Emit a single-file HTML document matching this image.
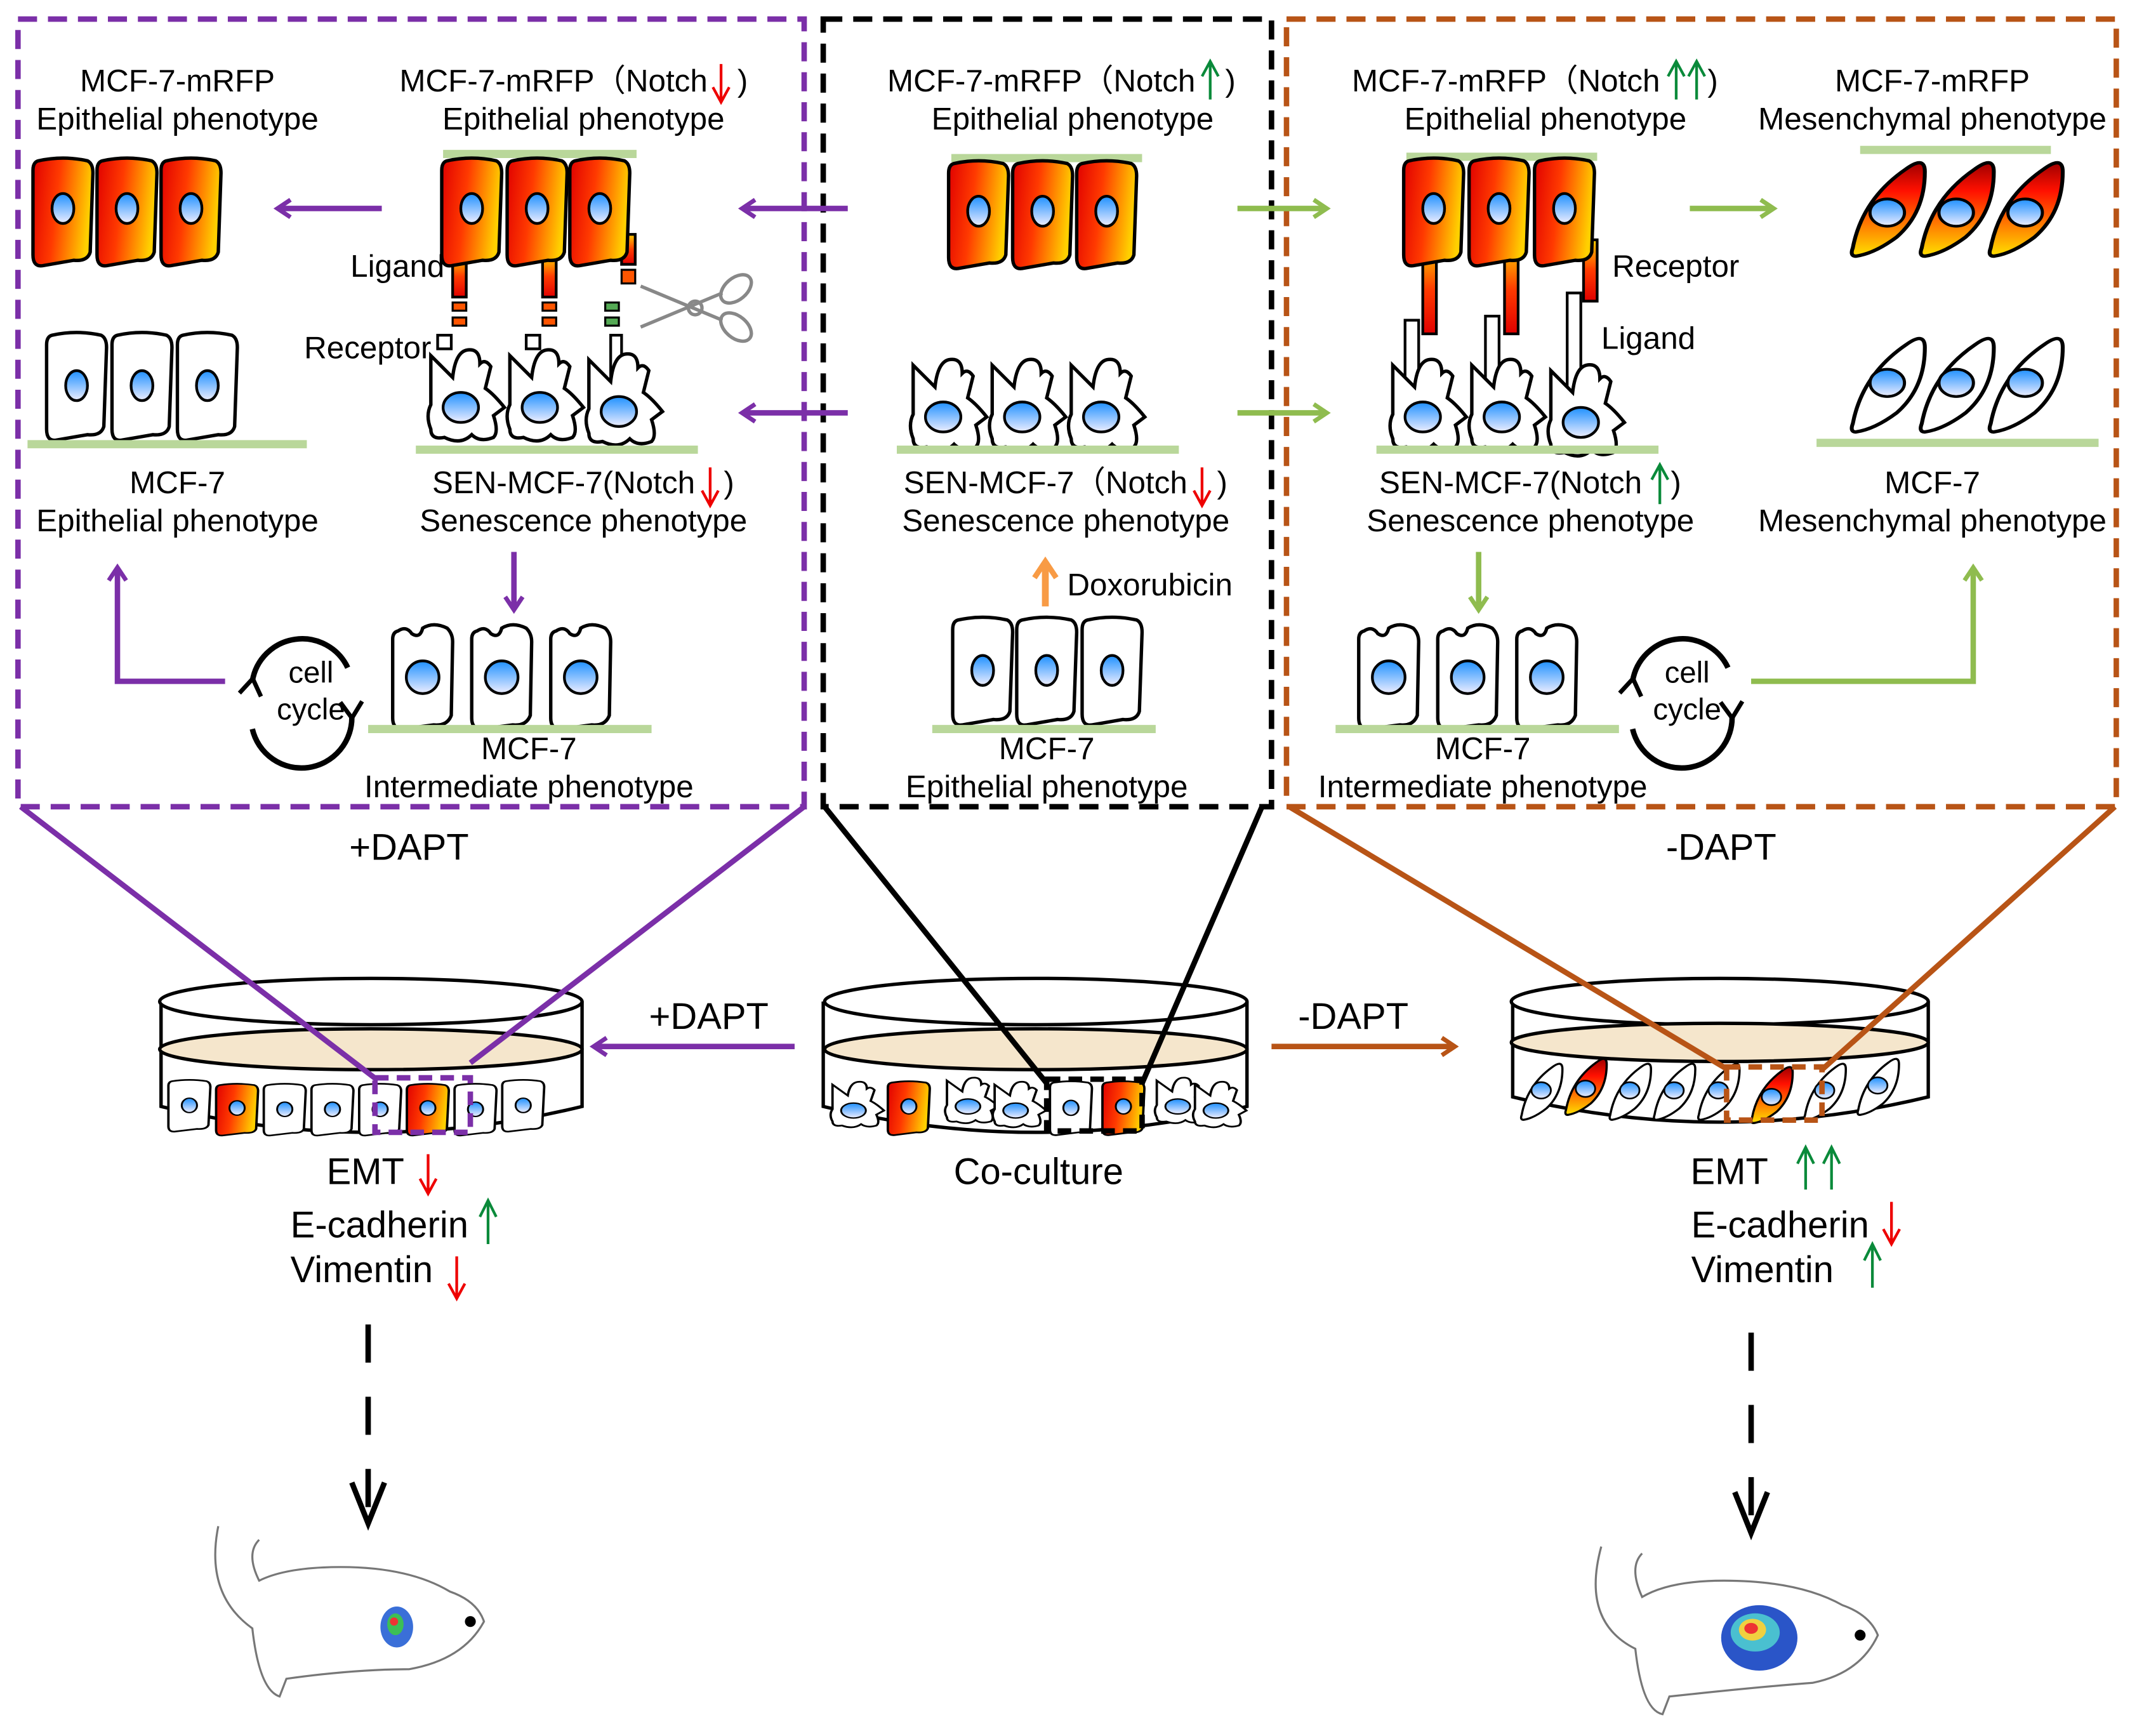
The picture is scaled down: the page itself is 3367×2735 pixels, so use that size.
<!DOCTYPE html>
<html><head><meta charset="utf-8"><style>
html,body{margin:0;padding:0;background:#fff}
svg{display:block}
text{font-family:"Liberation Sans",Arial,sans-serif;fill:#000}
</style></head><body>
<svg width="3367" height="2735" viewBox="0 0 1568 1274" xmlns="http://www.w3.org/2000/svg">
<defs>
<linearGradient id="rg" x1="0" y1="0" x2="1" y2="0.2"><stop offset="0" stop-color="#e00000"/><stop offset="0.45" stop-color="#ff3a00"/><stop offset="1" stop-color="#ffd000"/></linearGradient>
<linearGradient id="rgv" x1="0" y1="0" x2="0" y2="1"><stop offset="0" stop-color="#a00000"/><stop offset="0.3" stop-color="#ff1000"/><stop offset="1" stop-color="#ffe000"/></linearGradient>
<linearGradient id="rgu" x1="0" y1="1" x2="0" y2="0"><stop offset="0" stop-color="#e00000"/><stop offset="0.5" stop-color="#ff3a00"/><stop offset="1" stop-color="#ffd000"/></linearGradient>
<linearGradient id="ng" x1="0" y1="0" x2="0" y2="1"><stop offset="0" stop-color="#1e90ff"/><stop offset="1" stop-color="#eeeeff"/></linearGradient>
<g id="red"><path d="M6,3 Q24,-1 42,3 Q46,5 46,12 L44,70 Q42,77 32,76 L9,80 Q2,81 2,72 L2,10 Q2,4 6,3 Z" fill="url(#rg)" stroke="#000" stroke-width="2.5"/><ellipse cx="24" cy="38" rx="8" ry="11" fill="url(#ng)" stroke="#000" stroke-width="2"/></g>
<g id="wht"><path d="M6,3 Q24,-1 42,3 Q46,5 46,12 L44,70 Q42,77 32,76 L9,80 Q2,81 2,72 L2,10 Q2,4 6,3 Z" fill="#fff" stroke="#000" stroke-width="2.5"/><ellipse cx="24" cy="40" rx="8" ry="11" fill="url(#ng)" stroke="#000" stroke-width="2"/></g>
<g id="wht2"><path d="M6,6 Q12,2 16,8 Q22,12 24,4 Q32,-1 42,4 Q46,8 46,14 L45,68 Q42,76 32,75 L9,78 Q2,78 2,70 L2,12 Q2,7 6,6 Z" fill="#fff" stroke="#000" stroke-width="2.5"/><ellipse cx="24" cy="40" rx="12" ry="12" fill="url(#ng)" stroke="#000" stroke-width="2"/></g>
<g id="sen"><path d="M4,6 L20,22 Q22,4 30,2 Q40,0 40,12 Q44,8 48,14 L44,30 Q50,34 58,44 L50,50 Q54,62 50,66 Q40,70 34,64 Q26,72 14,66 Q4,68 4,60 Q0,50 4,42 Z" fill="#fff" stroke="#000" stroke-width="2.5"/><ellipse cx="26" cy="44" rx="13" ry="11" fill="url(#ng)" stroke="#000" stroke-width="2"/></g>
<g id="mesr"><path d="M4,66 Q10,30 38,8 Q50,-2 50,10 Q50,40 32,58 Q18,70 6,72 Q2,72 4,66 Z" fill="url(#rgv)" stroke="#000" stroke-width="2.5"/><ellipse cx="26" cy="40" rx="11" ry="10" fill="url(#ng)" stroke="#000" stroke-width="2"/></g>
<g id="mesw"><path d="M4,66 Q10,30 38,8 Q50,-2 50,10 Q50,40 32,58 Q18,70 6,72 Q2,72 4,66 Z" fill="#fff" stroke="#000" stroke-width="2.5"/><ellipse cx="26" cy="36" rx="11" ry="10" fill="url(#ng)" stroke="#000" stroke-width="2"/></g>
<marker id="ap" viewBox="0 0 10 10" refX="6" refY="5" markerWidth="4" markerHeight="4" orient="auto"><path d="M1,1 L7,5 L1,9" fill="none" stroke="#7b2fa8" stroke-width="2"/></marker>
<marker id="ag" viewBox="0 0 10 10" refX="6" refY="5" markerWidth="4" markerHeight="4" orient="auto"><path d="M1,1 L7,5 L1,9" fill="none" stroke="#8fbc4f" stroke-width="2"/></marker>
<marker id="ao" viewBox="0 0 10 10" refX="6" refY="5" markerWidth="4" markerHeight="4" orient="auto"><path d="M1,1 L7,5 L1,9" fill="none" stroke="#f89b45" stroke-width="2"/></marker>
<marker id="ab" viewBox="0 0 10 10" refX="6" refY="5" markerWidth="4" markerHeight="4" orient="auto"><path d="M1,1 L7,5 L1,9" fill="none" stroke="#b85416" stroke-width="2"/></marker>
<marker id="ak" viewBox="0 0 10 10" refX="6" refY="5" markerWidth="5" markerHeight="5" orient="auto"><path d="M1,1 L7,5 L1,9" fill="none" stroke="#000" stroke-width="1.6"/></marker>
</defs>

<rect x="13" y="14" width="577" height="578" fill="none" stroke="#7b2fa8" stroke-width="4" stroke-dasharray="14,8"/>
<rect x="604" y="14" width="329" height="578" fill="none" stroke="#000" stroke-width="4" stroke-dasharray="14,8"/>
<rect x="944" y="14" width="609" height="578" fill="none" stroke="#b85416" stroke-width="4" stroke-dasharray="14,8"/>

<!-- LEFT -->
<text x="130" y="67" font-size="23" text-anchor="middle">MCF-7-mRFP</text>
<text x="130" y="95" font-size="23" text-anchor="middle">Epithelial phenotype</text>
<text x="293" y="67" font-size="23">MCF-7-mRFP（Notch</text>
<text x="541" y="67" font-size="23">)</text>
<text x="428" y="95" font-size="23" text-anchor="middle">Epithelial phenotype</text>
<use href="#red" x="22" y="115"/><use href="#red" x="69" y="115"/><use href="#red" x="116" y="115"/>
<line x1="280" y1="153" x2="205" y2="153" stroke="#7b2fa8" stroke-width="4" marker-end="url(#ap)"/>
<use href="#wht" x="32" y="243"/><use href="#wht" x="80" y="243"/><use href="#wht" x="128" y="243"/>
<line x1="20" y1="326" x2="225" y2="326" stroke="#b9d79a" stroke-width="6"/>
<text x="130" y="362" font-size="23" text-anchor="middle">MCF-7</text>
<text x="130" y="390" font-size="23" text-anchor="middle">Epithelial phenotype</text>
<line x1="325" y1="113" x2="467" y2="113" stroke="#b9d79a" stroke-width="6"/>
<rect x="332" y="188" width="10" height="30" fill="url(#rgu)" stroke="#000" stroke-width="2"/>
<rect x="332" y="222" width="10" height="6" fill="#f50" stroke="#000" stroke-width="1.5"/><rect x="332" y="233" width="10" height="6" fill="#f50" stroke="#000" stroke-width="1.5"/>
<rect x="398" y="188" width="10" height="30" fill="url(#rgu)" stroke="#000" stroke-width="2"/>
<rect x="398" y="222" width="10" height="6" fill="#f50" stroke="#000" stroke-width="1.5"/><rect x="398" y="233" width="10" height="6" fill="#f50" stroke="#000" stroke-width="1.5"/>
<rect x="456" y="172" width="10" height="22" fill="url(#rgu)" stroke="#000" stroke-width="2"/>
<rect x="456" y="198" width="10" height="10" fill="#f50" stroke="#000" stroke-width="1.5"/>
<rect x="444" y="222" width="10" height="6" fill="#5a5" stroke="#000" stroke-width="1.5"/><rect x="444" y="233" width="10" height="6" fill="#5a5" stroke="#000" stroke-width="1.5"/>
<rect x="321" y="246" width="10" height="10" fill="#fff" stroke="#000" stroke-width="2"/>
<rect x="386" y="246" width="10" height="10" fill="#fff" stroke="#000" stroke-width="2"/>
<rect x="448" y="246" width="8" height="40" fill="#fff" stroke="#000" stroke-width="2"/>
<use href="#red" x="322" y="115"/><use href="#red" x="370" y="115"/><use href="#red" x="416" y="115"/>
<text x="257" y="203" font-size="23">Ligand</text>
<text x="223" y="263" font-size="23">Receptor</text>
<g fill="none" stroke="#888" stroke-width="2.5"><line x1="470" y1="210" x2="530" y2="235"/><line x1="470" y1="240" x2="530" y2="215"/><circle cx="510" cy="226" r="5"/><ellipse cx="540" cy="212" rx="13" ry="8" transform="rotate(-40 540 212)"/><ellipse cx="540" cy="240" rx="13" ry="8" transform="rotate(40 540 240)"/></g>
<use href="#sen" x="312" y="255"/><use href="#sen" x="370" y="255"/><use href="#sen" x="428" y="258"/>
<line x1="305" y1="330" x2="512" y2="330" stroke="#b9d79a" stroke-width="6"/>
<text x="317" y="362" font-size="23">SEN-MCF-7(Notch</text>
<text x="531" y="362" font-size="23">)</text>
<text x="428" y="390" font-size="23" text-anchor="middle">Senescence phenotype</text>
<line x1="377" y1="405" x2="377" y2="446" stroke="#7b2fa8" stroke-width="4" marker-end="url(#ap)"/>
<use href="#wht2" x="286" y="457"/><use href="#wht2" x="344" y="457"/><use href="#wht2" x="402" y="457"/>
<line x1="270" y1="535" x2="478" y2="535" stroke="#b9d79a" stroke-width="6"/>
<text x="388" y="557" font-size="23" text-anchor="middle">MCF-7</text>
<text x="388" y="585" font-size="23" text-anchor="middle">Intermediate phenotype</text>
<g fill="none" stroke="#000" stroke-width="4"><path d="M185,500 A37,37 0 0 1 255,490" marker-start="url(#ak)"/><path d="M258,525 A37,37 0 0 1 185,535" marker-start="url(#ak)"/></g>
<text x="228" y="501" font-size="22" text-anchor="middle">cell</text>
<text x="228" y="528" font-size="22" text-anchor="middle">cycle</text>
<polyline points="165,500 86,500 86,418" fill="none" stroke="#7b2fa8" stroke-width="4" marker-end="url(#ap)"/>

<!-- CENTER -->
<text x="651" y="67" font-size="23">MCF-7-mRFP（Notch</text>
<text x="899" y="67" font-size="23">)</text>
<text x="787" y="95" font-size="23" text-anchor="middle">Epithelial phenotype</text>
<line x1="698" y1="116" x2="838" y2="116" stroke="#b9d79a" stroke-width="6"/>
<use href="#red" x="694" y="117"/><use href="#red" x="741" y="117"/><use href="#red" x="788" y="117"/>
<line x1="622" y1="153" x2="546" y2="153" stroke="#7b2fa8" stroke-width="4" marker-end="url(#ap)"/>
<line x1="622" y1="303" x2="546" y2="303" stroke="#7b2fa8" stroke-width="4" marker-end="url(#ap)"/>
<line x1="908" y1="153" x2="972" y2="153" stroke="#8fbc4f" stroke-width="4" marker-end="url(#ag)"/>
<line x1="908" y1="303" x2="972" y2="303" stroke="#8fbc4f" stroke-width="4" marker-end="url(#ag)"/>
<use href="#sen" x="666" y="262"/><use href="#sen" x="724" y="262"/><use href="#sen" x="782" y="262"/>
<line x1="658" y1="330" x2="865" y2="330" stroke="#b9d79a" stroke-width="6"/>
<text x="663" y="362" font-size="23">SEN-MCF-7（Notch</text>
<text x="893" y="362" font-size="23">)</text>
<text x="782" y="390" font-size="23" text-anchor="middle">Senescence phenotype</text>
<line x1="767" y1="445" x2="767" y2="414" stroke="#f89b45" stroke-width="5" marker-end="url(#ao)"/>
<text x="783" y="437" font-size="23">Doxorubicin</text>
<use href="#wht" x="697" y="452"/><use href="#wht" x="744" y="452"/><use href="#wht" x="792" y="452"/>
<line x1="684" y1="535" x2="848" y2="535" stroke="#b9d79a" stroke-width="6"/>
<text x="768" y="557" font-size="23" text-anchor="middle">MCF-7</text>
<text x="768" y="585" font-size="23" text-anchor="middle">Epithelial phenotype</text>

<!-- RIGHT -->
<text x="992" y="67" font-size="23">MCF-7-mRFP（Notch</text>
<text x="1253" y="67" font-size="23">)</text>
<text x="1134" y="95" font-size="23" text-anchor="middle">Epithelial phenotype</text>
<text x="1418" y="67" font-size="23" text-anchor="middle">MCF-7-mRFP</text>
<text x="1418" y="95" font-size="23" text-anchor="middle">Mesenchymal phenotype</text>
<line x1="1032" y1="115" x2="1172" y2="115" stroke="#b9d79a" stroke-width="6"/>
<rect x="1031" y="235" width="10" height="65" fill="#fff" stroke="#000" stroke-width="2"/>
<rect x="1090" y="232" width="10" height="70" fill="#fff" stroke="#000" stroke-width="2"/>
<rect x="1150" y="215" width="10" height="80" fill="#fff" stroke="#000" stroke-width="2"/>
<rect x="1044" y="180" width="10" height="65" fill="url(#rgu)" stroke="#000" stroke-width="2"/>
<rect x="1104" y="180" width="10" height="65" fill="url(#rgu)" stroke="#000" stroke-width="2"/>
<rect x="1162" y="176" width="10" height="45" fill="url(#rgu)" stroke="#000" stroke-width="2"/>
<use href="#red" x="1028" y="115"/><use href="#red" x="1076" y="115"/><use href="#red" x="1124" y="115"/>
<text x="1183" y="203" font-size="23">Receptor</text>
<text x="1175" y="256" font-size="23">Ligand</text>
<use href="#sen" x="1018" y="262"/><use href="#sen" x="1076" y="262"/><use href="#sen" x="1134" y="266"/>
<line x1="1010" y1="330" x2="1217" y2="330" stroke="#b9d79a" stroke-width="6"/>
<text x="1012" y="362" font-size="23">SEN-MCF-7(Notch</text>
<text x="1226" y="362" font-size="23">)</text>
<text x="1123" y="390" font-size="23" text-anchor="middle">Senescence phenotype</text>
<line x1="1240" y1="153" x2="1300" y2="153" stroke="#8fbc4f" stroke-width="4" marker-end="url(#ag)"/>
<line x1="1365" y1="110" x2="1505" y2="110" stroke="#b9d79a" stroke-width="6"/>
<g transform="translate(1355,116) scale(1.15,1.0)"><use href="#mesr" x="0" y="0"/><use href="#mesr" x="44" y="0"/><use href="#mesr" x="88" y="0"/></g>
<g transform="translate(1355,245) scale(1.15,1.0)"><use href="#mesw" x="0" y="0"/><use href="#mesw" x="44" y="0"/><use href="#mesw" x="88" y="0"/></g>
<line x1="1333" y1="325" x2="1540" y2="325" stroke="#b9d79a" stroke-width="6"/>
<text x="1418" y="362" font-size="23" text-anchor="middle">MCF-7</text>
<text x="1418" y="390" font-size="23" text-anchor="middle">Mesenchymal phenotype</text>
<line x1="1085" y1="405" x2="1085" y2="446" stroke="#8fbc4f" stroke-width="4" marker-end="url(#ag)"/>
<use href="#wht2" x="995" y="457"/><use href="#wht2" x="1053" y="457"/><use href="#wht2" x="1111" y="457"/>
<line x1="980" y1="535" x2="1188" y2="535" stroke="#b9d79a" stroke-width="6"/>
<text x="1088" y="557" font-size="23" text-anchor="middle">MCF-7</text>
<text x="1088" y="585" font-size="23" text-anchor="middle">Intermediate phenotype</text>
<g fill="none" stroke="#000" stroke-width="4"><path d="M1198,500 A37,37 0 0 1 1268,490" marker-start="url(#ak)"/><path d="M1271,525 A37,37 0 0 1 1198,535" marker-start="url(#ak)"/></g>
<text x="1238" y="501" font-size="22" text-anchor="middle">cell</text>
<text x="1238" y="528" font-size="22" text-anchor="middle">cycle</text>
<polyline points="1285,500 1448,500 1448,418" fill="none" stroke="#8fbc4f" stroke-width="4" marker-end="url(#ag)"/>

<text x="300" y="631" font-size="27" text-anchor="middle">+DAPT</text>
<text x="1263" y="631" font-size="27" text-anchor="middle">-DAPT</text>

<g stroke-width="2" fill="none">
<path d="M529,47 V74 M523,64 L529,75 L535,64" stroke="#e00"/>
<path d="M888,73 V46 M882,56 L888,45 L894,56" stroke="#0a8a3a"/>
<path d="M1230,73 V46 M1224,56 L1230,45 L1236,56" stroke="#0a8a3a"/>
<path d="M1245,73 V46 M1239,56 L1245,45 L1251,56" stroke="#0a8a3a"/>
<path d="M521,343 V370 M515,360 L521,371 L527,360" stroke="#e00"/>
<path d="M882,343 V370 M876,360 L882,371 L888,360" stroke="#e00"/>
<path d="M1218,370 V342 M1212,352 L1218,341 L1224,352" stroke="#0a8a3a"/>
<path d="M314,847 V875 M308,865 L314,876 L320,865" stroke="#e00"/>
<path d="M358,913 V882 M352,893 L358,881 L364,893" stroke="#0a8a3a"/>
<path d="M335,922 V952 M329,942 L335,953 L341,942" stroke="#e00"/>
<path d="M1325,873 V843 M1319,854 L1325,842 L1331,854" stroke="#0a8a3a"/>
<path d="M1344,873 V843 M1338,854 L1344,842 L1350,854" stroke="#0a8a3a"/>
<path d="M1388,882 V912 M1382,902 L1388,913 L1394,902" stroke="#e00"/>
<path d="M1374,945 V914 M1368,925 L1374,913 L1380,925" stroke="#0a8a3a"/>
</g>

<g stroke="#000" stroke-width="2.5">
<path d="M118,735 V812 Q272,850 427,812 V735" fill="#fff"/>
<ellipse cx="272" cy="735" rx="155" ry="17" fill="#fff"/>
<ellipse cx="272" cy="770" rx="155" ry="15" fill="#f5e6cc"/>
<path d="M604,735 V812 Q760,850 915,812 V735" fill="#fff"/>
<ellipse cx="760" cy="735" rx="155" ry="17" fill="#fff"/>
<ellipse cx="760" cy="770" rx="155" ry="15" fill="#f5e6cc"/>
<path d="M1110,735 V805 Q1262,842 1415,805 V735" fill="#fff"/>
<ellipse cx="1262" cy="735" rx="153" ry="17" fill="#fff"/>
<ellipse cx="1262" cy="765" rx="153" ry="14" fill="#f5e6cc"/>
</g>
<g transform="translate(122,792) scale(0.7,0.48)">
<use href="#wht" x="0" y="0"/><use href="#red" x="50" y="6"/><use href="#wht" x="100" y="6"/><use href="#wht" x="150" y="6"/><use href="#wht" x="200" y="6"/><use href="#red" x="250" y="6"/><use href="#wht" x="300" y="6"/><use href="#wht" x="350" y="0"/>
</g>
<g transform="translate(608,790) scale(0.7,0.5)">
<use href="#sen" x="0" y="6"/><use href="#red" x="60" y="6"/><use href="#sen" x="120" y="0"/><use href="#sen" x="170" y="6"/><use href="#wht" x="230" y="6"/><use href="#red" x="285" y="6"/><use href="#sen" x="340" y="0"/><use href="#sen" x="380" y="6"/>
</g>
<g transform="translate(1114,775) scale(0.65,0.6)">
<use href="#mesw" x="0" y="6"/><use href="#mesr" x="50" y="0"/><use href="#mesw" x="100" y="6"/><use href="#mesw" x="150" y="6"/><use href="#mesw" x="200" y="6"/><use href="#mesr" x="260" y="10"/><use href="#mesw" x="320" y="6"/><use href="#mesw" x="380" y="0"/>
</g>
<rect x="275" y="791" width="70" height="40" fill="none" stroke="#7b2fa8" stroke-width="4" stroke-dasharray="10,6"/>
<rect x="768" y="792" width="70" height="38" fill="none" stroke="#000" stroke-width="4" stroke-dasharray="10,6"/>
<rect x="1267" y="783" width="70" height="39" fill="none" stroke="#b85416" stroke-width="4" stroke-dasharray="10,6"/>

<g stroke-width="4">
<line x1="15" y1="592" x2="276" y2="792" stroke="#7b2fa8"/>
<line x1="590" y1="592" x2="345" y2="780" stroke="#7b2fa8"/>
<line x1="605" y1="592" x2="768" y2="795" stroke="#000"/>
<line x1="926" y1="592" x2="838" y2="795" stroke="#000"/>
<line x1="946" y1="592" x2="1268" y2="785" stroke="#b85416"/>
<line x1="1552" y1="592" x2="1337" y2="785" stroke="#b85416"/>
</g>

<line x1="583" y1="768" x2="437" y2="768" stroke="#7b2fa8" stroke-width="4" marker-end="url(#ap)"/>
<text x="520" y="755" font-size="27" text-anchor="middle">+DAPT</text>
<line x1="933" y1="768" x2="1066" y2="768" stroke="#b85416" stroke-width="4" marker-end="url(#ab)"/>
<text x="993" y="755" font-size="27" text-anchor="middle">-DAPT</text>

<text x="268" y="869" font-size="27" text-anchor="middle">EMT</text>
<text x="213" y="908" font-size="27">E-cadherin</text>
<text x="213" y="941" font-size="27">Vimentin</text>
<text x="762" y="869" font-size="27" text-anchor="middle">Co-culture</text>
<text x="1269" y="869" font-size="27" text-anchor="middle">EMT</text>
<text x="1241" y="908" font-size="27">E-cadherin</text>
<text x="1241" y="941" font-size="27">Vimentin</text>

<g stroke="#000" stroke-width="4" fill="none">
<line x1="270" y1="972" x2="270" y2="1115" stroke-dasharray="28,25"/>
<path d="M258,1088 L270,1118 L282,1088"/>
<line x1="1285" y1="978" x2="1285" y2="1122" stroke-dasharray="28,25"/>
<path d="M1273,1095 L1285,1125 L1297,1095"/>
</g>

<g fill="#fff" stroke="#777" stroke-width="1.5">
<path d="M160,1120 Q150,1170 185,1195 Q190,1240 205,1245 L210,1232 Q260,1225 300,1225 Q340,1218 355,1190 Q350,1175 330,1168 Q300,1150 250,1150 Q210,1150 190,1160 Q180,1140 190,1130"/>
<path d="M1175,1135 Q1160,1190 1200,1210 Q1205,1255 1220,1258 L1225,1245 Q1290,1238 1330,1235 Q1365,1228 1378,1200 Q1372,1185 1352,1178 Q1320,1160 1265,1160 Q1225,1160 1205,1172 Q1195,1150 1205,1140"/>
</g>
<ellipse cx="291" cy="1194" rx="12" ry="15" fill="#3a6fd8"/><ellipse cx="290" cy="1192" rx="6" ry="8" fill="#3cbf55"/><ellipse cx="289" cy="1190" rx="3" ry="3" fill="#e33"/>
<ellipse cx="1291" cy="1202" rx="28" ry="24" fill="#2a55c8"/><ellipse cx="1288" cy="1198" rx="18" ry="14" fill="#4ac0d0"/><ellipse cx="1286" cy="1196" rx="10" ry="8" fill="#f0d040"/><ellipse cx="1285" cy="1195" rx="5" ry="4" fill="#e33"/>
<circle cx="345" cy="1190" r="4" fill="#000"/><circle cx="1365" cy="1200" r="4" fill="#000"/>
</svg>
</body></html>
